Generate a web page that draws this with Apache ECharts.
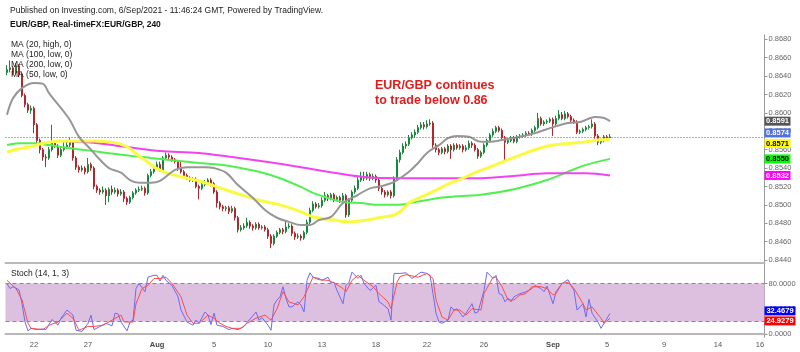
<!DOCTYPE html>
<html>
<head>
<meta charset="utf-8">
<script src="https://cdn.jsdelivr.net/npm/echarts@6/dist/echarts.min.js"></script>
<style>
html,body{margin:0;padding:0;background:#fff;}
#chart{width:800px;height:352px;}
</style>
</head>
<body>
<div id="chart"></div>
<script>
// ---------------- DATA (prices in pips: 8574 = 0.8574) ----------------
const barOpen = [
8644,8647,8649,8644,8651,8642,8619,8609,8603,8605,
8587,8570,8560,8552,8551,8560,8567,8564,8554,8560,
8563,8565,8568,8551,8541,8538,8540,8536,8544,8540,
8520,8516,8514,8516,8510,8517,8514,8516,8512,8514,
8507,8503,8508,8513,8516,8517,8518,8513,8532,8536,
8540,8544,8538,8551,8554,8552,8549,8547,8540,8536,
8532,8529,8527,8528,8520,8518,8522,8524,8527,8523,
8514,8502,8498,8496,8497,8493,8496,8486,8473,8475,
8477,8481,8477,8475,8479,8475,8476,8473,8466,8458,
8466,8470,8473,8471,8476,8477,8469,8465,8466,8464,
8470,8481,8494,8501,8498,8499,8505,8510,8507,8511,
8506,8508,8505,8510,8489,8505,8514,8518,8527,8531,
8529,8533,8529,8531,8527,8518,8514,8511,8514,8510,
8529,8549,8557,8564,8566,8573,8576,8579,8584,8587,
8585,8588,8589,8565,8560,8557,8561,8558,8564,8560,
8565,8562,8564,8560,8562,8567,8565,8560,8553,8557,
8565,8570,8576,8580,8584,8581,8573,8568,8570,8573,
8569,8574,8575,8576,8578,8577,8581,8584,8594,8588,
8590,8591,8593,8588,8594,8598,8594,8599,8596,8592,
8590,8579,8580,8582,8584,8585,8588,8575,8568,8570,
8574,8573];
const barClose = [
8647,8649,8644,8651,8642,8619,8609,8603,8605,8587,
8570,8560,8552,8551,8560,8567,8564,8554,8560,8563,
8565,8568,8551,8541,8538,8540,8536,8544,8540,8520,
8516,8514,8516,8510,8517,8514,8516,8512,8514,8507,
8503,8508,8513,8516,8517,8518,8513,8532,8536,8540,
8544,8538,8551,8554,8552,8549,8547,8540,8536,8532,
8529,8527,8528,8520,8518,8522,8524,8527,8523,8514,
8502,8498,8496,8497,8493,8496,8486,8473,8475,8477,
8481,8477,8475,8479,8475,8476,8473,8466,8458,8466,
8470,8473,8471,8476,8477,8469,8465,8466,8464,8470,
8481,8494,8501,8498,8499,8505,8510,8507,8511,8506,
8508,8505,8510,8489,8505,8514,8518,8527,8531,8529,
8533,8529,8531,8527,8518,8514,8511,8514,8510,8529,
8549,8557,8564,8566,8573,8576,8579,8584,8587,8585,
8588,8589,8565,8560,8557,8561,8558,8564,8560,8565,
8562,8564,8560,8562,8567,8565,8560,8553,8557,8565,
8570,8576,8580,8584,8581,8573,8568,8570,8573,8569,
8574,8575,8576,8578,8577,8581,8584,8594,8588,8590,
8591,8593,8588,8594,8598,8594,8599,8596,8592,8590,
8579,8580,8582,8584,8585,8588,8575,8568,8570,8574,
8573,8574];
const barLow = [
8641,8644,8641,8642,8639,8617,8606,8600,8599,8578,
8566,8556,8548,8541,8549,8558,8562,8551,8552,8558,
8561,8563,8548,8538,8535,8536,8533,8534,8537,8517,
8513,8511,8512,8500,8503,8511,8512,8509,8510,8503,
8500,8501,8506,8511,8514,8515,8510,8511,8530,8534,
8538,8536,8536,8549,8549,8547,8545,8537,8534,8530,
8527,8525,8525,8518,8506,8516,8520,8522,8520,8512,
8497,8495,8493,8493,8490,8491,8483,8470,8471,8473,
8475,8474,8472,8473,8473,8473,8471,8463,8453,8456,
8464,8468,8468,8469,8474,8466,8462,8463,8461,8462,
8468,8479,8492,8496,8496,8497,8503,8504,8505,8503,
8504,8502,8503,8486,8487,8503,8512,8516,8525,8526,
8527,8526,8527,8524,8515,8511,8508,8509,8507,8508,
8527,8546,8555,8561,8564,8571,8573,8577,8582,8582,
8583,8586,8562,8557,8554,8555,8555,8556,8550,8558,
8560,8560,8557,8558,8560,8562,8558,8550,8551,8555,
8563,8568,8574,8578,8579,8571,8547,8566,8568,8567,
8567,8572,8573,8574,8575,8575,8579,8582,8586,8586,
8588,8589,8575,8586,8592,8592,8592,8594,8590,8588,
8577,8577,8578,8580,8582,8583,8572,8565,8566,8568,
8570,8571];
const barHigh = [
8652,8657,8651,8654,8653,8644,8621,8611,8608,8607,
8589,8572,8562,8555,8563,8587,8569,8566,8563,8568,
8569,8573,8570,8553,8543,8543,8542,8551,8546,8542,
8522,8518,8520,8518,8519,8521,8519,8518,8517,8516,
8509,8510,8515,8518,8520,8521,8520,8534,8539,8543,
8547,8547,8553,8557,8556,8554,8551,8549,8547,8538,
8534,8531,8530,8530,8522,8524,8527,8529,8529,8525,
8516,8504,8500,8499,8499,8499,8498,8488,8478,8480,
8486,8483,8479,8481,8481,8478,8478,8475,8468,8468,
8472,8475,8475,8483,8480,8479,8471,8469,8468,8472,
8484,8497,8504,8503,8502,8508,8514,8512,8513,8513,
8510,8510,8513,8512,8507,8516,8521,8530,8536,8536,
8536,8535,8534,8533,8529,8520,8516,8516,8516,8531,
8552,8560,8567,8569,8576,8579,8582,8587,8590,8590,
8592,8593,8591,8567,8562,8563,8563,8566,8566,8567,
8567,8566,8566,8565,8570,8569,8567,8562,8559,8567,
8572,8578,8583,8586,8586,8583,8575,8572,8575,8575,
8576,8577,8578,8580,8580,8583,8586,8600,8596,8592,
8593,8595,8595,8597,8603,8601,8602,8601,8598,8594,
8592,8582,8584,8586,8587,8593,8590,8577,8572,8576,
8576,8577];

// moving averages (bar index, value in pips)
const maGrayAt = [0,2,5,9,12,14,19,21,24,28,31,34,38,41,44,48,51,56,60,66,69,73,77,82,86,90,94,98,101,104,108,112,117,121,125,129,134,137,140,144,147,150,154,158,161,165,171,177,182,187,191,196,199,201];
const maGray = [8598,8616,8627,8632.5,8631.5,8621.5,8601,8592,8574,8560,8549,8540,8535,8527,8524,8524,8526,8538,8541,8541,8540,8535,8521.5,8507.5,8494.5,8486,8481.5,8478,8478,8483.5,8487,8502,8511,8518,8520.5,8525,8536,8545.5,8556.5,8565,8572.5,8575,8574,8568.5,8568.5,8570.5,8574,8579,8584.5,8589,8590,8595.5,8594.5,8591];
const maYellowAt = [0,4,9,12,18,23,29,34,38,41,44,47,49,53,60,64,71,78,84,91,98,102,109,114,120,124,129,131,134,138,143,147,152,156,160,165,171,177,182,188,193,197,201];
const maYellow = [8557.5,8561,8564,8567,8569.5,8569.5,8569.5,8568.5,8566,8561,8553,8546.5,8541,8535,8529,8526,8518.5,8511,8505,8500,8492.5,8487,8483.5,8481.5,8483.5,8486,8489,8492.5,8502,8508.5,8516,8522.5,8529,8535,8540,8546.5,8554,8561,8565,8567,8568.5,8570.5,8571];
const maGreenAt = [0,4,9,14,20,25,31,37,42,48,51,64,71,78,84,91,98,102,107,112,118,124,130,136,142,147,153,158,169,180,187,193,201];
const maGreen = [8565,8567,8567,8565,8562,8560,8557.5,8555,8553,8551,8550,8545.5,8543.5,8540,8536,8529,8519.5,8513,8507.5,8503,8502,8500,8500,8503,8506.5,8508.5,8510,8511,8517,8527,8536,8543.5,8550];
const maMagentaAt = [18,25,33,42,51,64,75,87,98,109,120,131,147,158,169,180,187,193,201];
const maMagenta = [8569.5,8568.5,8566,8562,8558.5,8556.5,8552,8546.5,8541,8535,8530,8529,8529,8529,8531.5,8534.5,8534.5,8534.5,8532];

// stochastic (bar index, value)
const stochKAt = [0,1,2,4,5,6,7,8,10,12,13,15,17,18,20,22,23,25,27,28,29,31,33,35,36,37,38,40,41,42,43,44,46,47,49,50,51,52,53,55,57,58,60,62,63,64,66,67,68,69,70,72,74,75,77,79,80,83,84,85,87,88,89,90,91,92,93,94,95,97,98,99,100,101,102,104,105,107,108,109,110,112,113,114,115,117,118,119,121,123,124,125,127,128,129,131,133,135,138,140,141,142,143,144,145,147,148,149,150,152,153,155,156,157,159,160,162,163,164,165,166,167,168,169,171,173,175,176,178,179,180,182,183,185,187,188,189,190,192,193,194,195,197,198,200,201];
const stochK = [80,72,75,70,48,19,5,9,7,8,7,23,14,25,38,30,6,4,17,30,7,12,17,13,33,32,19,5,19,22,72,80,67,90,93,93,84,93,85,77,59,38,19,14,22,17,35,30,15,33,14,12,7,9,7,12,18,35,22,26,14,6,46,54,59,75,56,43,43,51,46,35,85,97,90,88,85,90,81,82,69,48,77,82,98,88,93,80,69,77,51,48,40,22,96,96,97,88,98,96,93,64,33,19,17,22,43,38,40,27,33,48,33,35,69,98,88,93,64,62,51,57,51,59,64,67,72,77,72,67,76,48,67,80,86,77,69,38,48,27,55,33,19,9,25,32.4679];
const stochDAt = [0,3,5,7,8,12,14,17,20,22,24,27,29,32,35,38,39,42,43,45,47,49,51,53,55,58,60,62,64,67,69,71,73,75,78,80,83,86,88,90,92,94,97,99,102,104,107,109,112,113,115,117,119,122,124,127,128,130,131,133,137,140,142,143,145,147,149,151,153,155,158,159,162,163,165,167,169,171,173,175,178,180,182,183,185,187,189,192,193,195,198,199,201];
const stochD = [85,72,54,17,9,7,14,19,33,25,6,12,12,14,22,30,19,19,48,72,77,88,88,90,80,59,30,17,17,30,25,17,12,9,9,17,25,30,22,40,67,51,46,59,90,86,85,81,72,67,85,93,85,75,64,51,40,82,91,94,90,96,88,54,27,22,38,38,30,40,38,64,90,90,75,54,54,62,64,75,75,72,62,64,80,82,72,48,38,43,25,17,24.9279];

// axes / labels
const slotCount = 253;
const dateLabels = ['22','27','Aug','5','10','13','18','22','26','Sep','5','9','14','16'];
const dateLabelAt = [9,27,50,69,87,105,123,140,159,182,200,219,237,251];
const priceTickLabels = ['0.8440','0.8460','0.8480','0.8500','0.8520','0.8540','0.8560','0.8580','0.8600','0.8620','0.8640','0.8660','0.8680'];
const stochTickLabels = ['0.0000','40.0000','80.0000'];
const stochBand = [20, 80];
const lastPrice = '0.8574';
const priceTagTexts = ['0.8591','0.8574','0.8571','0.8550','0.8532'];
const stochTagTexts = ['32.4679','24.9279'];

// ---------------- CHART ----------------
const FONT = '"Liberation Sans", Arial, sans-serif';
const P = v => v / 10000;
const slots = Array.from({length: slotCount}, (_, i) => String(i));
const candles = barOpen.map((o, i) => [P(o), P(barClose[i]), P(barLow[i]), P(barHigh[i])]);
const pairs = (at, vals, f) => at.map((x, j) => [x, f ? f(vals[j]) : vals[j]]);
const priceTicks = priceTickLabels.map(Number);
const stochTicks = stochTickLabels.map(Number);
const labelMap = {};
dateLabelAt.forEach((b, j) => labelMap[b] = dateLabels[j]);

const chart = echarts.init(document.getElementById('chart'), null, {renderer: 'canvas'});

const maLine = (name, at, vals, color, width) => ({
  name, type: 'line', xAxisIndex: 0, yAxisIndex: 0,
  data: pairs(at, vals, P), showSymbol: false, smooth: 0.35,
  lineStyle: {color, width}, itemStyle: {color}, silent: true, z: 3
});

const option = {
  animation: false,
  backgroundColor: '#ffffff',
  textStyle: {fontFamily: FONT},
  grid: [
    {left: 5.5, right: 35.5, top: 35, height: 228},
    {left: 5.5, right: 35.5, top: 263, height: 74.3}
  ],
  xAxis: [
    {type: 'category', gridIndex: 0, data: slots, boundaryGap: true,
     axisLine: {show: true, lineStyle: {color: '#b8b8b8', width: 2}},
     axisTick: {show: false}, axisLabel: {show: false}, splitLine: {show: false}},
    {type: 'category', gridIndex: 1, data: slots, boundaryGap: true,
     axisLine: {show: true, lineStyle: {color: '#b8b8b8', width: 2}},
     axisTick: {show: false}, splitLine: {show: false},
     axisLabel: {
       interval: (i) => labelMap[i] !== undefined,
       formatter: (v, i) => {
         const t = labelMap[i] || '';
         return /[A-Za-z]/.test(t) ? '{b|' + t + '}' : t;
       },
       rich: {b: {fontWeight: 'bold', fontSize: 7.5, color: '#444', fontFamily: FONT}},
       margin: 4, fontSize: 7.5, color: '#555', fontFamily: FONT
     }}
  ],
  yAxis: [
    {type: 'value', gridIndex: 0, position: 'right', min: 0.84368, max: 0.86847, scale: true,
     axisLine: {show: true, lineStyle: {color: '#9a9a9a', width: 1}},
     axisTick: {show: true, length: 3, customValues: priceTicks, lineStyle: {color: '#9a9a9a'}},
     axisLabel: {customValues: priceTicks, formatter: v => v.toFixed(4), fontSize: 7.5, color: '#666', margin: 4, fontFamily: FONT},
     splitLine: {show: false}},
    {type: 'value', gridIndex: 1, position: 'right', min: -5.2, max: 112.5,
     axisLine: {show: true, lineStyle: {color: '#9a9a9a', width: 1}},
     axisTick: {show: true, length: 3, customValues: stochTicks, lineStyle: {color: '#9a9a9a'}},
     axisLabel: {customValues: stochTicks, formatter: v => v.toFixed(4), fontSize: 7.5, color: '#666', margin: 4, fontFamily: FONT},
     splitLine: {show: false}}
  ],
  series: [
    {name: 'EUR/GBP', type: 'candlestick', xAxisIndex: 0, yAxisIndex: 0, data: candles,
     barWidth: 2.4,
     itemStyle: {color: '#17893b', color0: '#b5262c', borderColor: '#17893b', borderColor0: '#b5262c', borderWidth: 1},
     markLine: {silent: true, symbol: ['none', 'none'], label: {show: false}, precision: 4,
       lineStyle: {color: '#2f5cf0', type: [1, 2], width: 1, opacity: 1},
       data: [{yAxis: Number(lastPrice)}]},
     z: 2},
    maLine('MA (100, low, 0)', maGreenAt, maGreen, '#50f050', 2),
    maLine('MA (200, low, 0)', maMagentaAt, maMagenta, '#f044f0', 2),
    maLine('MA (50, low, 0)', maYellowAt, maYellow, '#fafa40', 3),
    maLine('MA (20, high, 0)', maGrayAt, maGray, '#969696', 2),
    {name: '%K', type: 'line', xAxisIndex: 1, yAxisIndex: 1, data: pairs(stochKAt, stochK),
     showSymbol: false, lineStyle: {color: '#6b6bf5', width: 1}, silent: true,
     markArea: {silent: true, itemStyle: {color: '#ddc0e0'},
       data: [[{yAxis: stochBand[0]}, {yAxis: stochBand[1]}]]},
     markLine: {silent: true, symbol: ['none', 'none'], label: {show: false},
       lineStyle: {color: '#888', type: [4, 3], width: 1},
       data: [{yAxis: stochBand[0]}, {yAxis: stochBand[1]}]}},
    {name: '%D', type: 'line', xAxisIndex: 1, yAxisIndex: 1, data: pairs(stochDAt, stochD),
     showSymbol: false, lineStyle: {color: '#ff4b4b', width: 1}, silent: true}
  ]
};
chart.setOption(option);

// ---------------- TEXT & TAGS ----------------
const texts = [
  {text: 'Published on Investing.com, 6/Sep/2021 - 11:46:24 GMT, Powered by TradingView.', x: 10, y: 11, size: 8.5, weight: 'normal', color: '#222'},
  {text: 'EUR/GBP, Real-timeFX:EUR/GBP, 240', x: 10, y: 25, size: 8.5, weight: 'bold', color: '#111'},
  {text: 'MA (20, high, 0)', x: 11, y: 44.5, size: 8.5, weight: 'normal', color: '#222'},
  {text: 'MA (100, low, 0)', x: 11, y: 54.5, size: 8.5, weight: 'normal', color: '#222'},
  {text: 'MA (200, low, 0)', x: 11, y: 64.5, size: 8.5, weight: 'normal', color: '#222'},
  {text: 'MA (50, low, 0)', x: 11, y: 75, size: 8.5, weight: 'normal', color: '#222'},
  {text: 'Stoch (14, 1, 3)', x: 11, y: 273.5, size: 8.5, weight: 'normal', color: '#222'},
  {text: 'EUR/GBP continues', x: 375, y: 85.5, size: 12.5, weight: 'bold', color: '#e41c1c'},
  {text: 'to trade below 0.86', x: 375, y: 100.5, size: 12.5, weight: 'bold', color: '#e41c1c'}
];
const graphics = texts.map(t => ({
  type: 'text', z: 50, silent: true,
  style: {text: t.text, x: t.x, y: t.y, fill: t.color, fontSize: t.size, fontWeight: t.weight,
          fontFamily: FONT, align: 'left', verticalAlign: 'middle'}
}));

function layoutTags(items, gap) {
  items.sort((a, b) => a.y - b.y);
  for (let i = 1; i < items.length; i++) {
    if (items[i].y - items[i - 1].y < gap) {
      const mid = (items[i].y + items[i - 1].y) / 2;
      items[i - 1].y = mid - gap / 2;
      items[i].y = mid + gap / 2;
    }
  }
  return items;
}
const priceTagStyle = [
  {bg: '#555555', fg: '#ffffff'}, {bg: '#4f72e3', fg: '#ffffff'}, {bg: '#ffff00', fg: '#000000'},
  {bg: '#00ff00', fg: '#000000'}, {bg: '#ff00ff', fg: '#ffffff'}
];
const stochTagStyle = [{bg: '#0000ff', fg: '#ffffff'}, {bg: '#ff0000', fg: '#ffffff'}];
const axisX = chart.convertToPixel({gridIndex: 0}, [slotCount - 1, 0.85])[0] + 1.5;
const pTags = layoutTags(priceTagTexts.map((t, i) => ({
  text: t, y: chart.convertToPixel({yAxisIndex: 0}, Number(t)), w: 26, ...priceTagStyle[i]})), 10.5);
const sTags = layoutTags(stochTagTexts.map((t, i) => ({
  text: t, y: chart.convertToPixel({yAxisIndex: 1}, Number(t)), w: 31, ...stochTagStyle[i]})), 10);
[...pTags, ...sTags].forEach(tag => {
  graphics.push({type: 'rect', z: 60, silent: true,
    shape: {x: axisX, y: tag.y - 4.5, width: tag.w, height: 9},
    style: {fill: tag.bg}});
  graphics.push({type: 'text', z: 61, silent: true,
    style: {text: tag.text, x: axisX + tag.w / 2, y: tag.y, fill: tag.fg, fontSize: 7.5, fontWeight: 'bold',
            fontFamily: FONT, align: 'center', verticalAlign: 'middle'}});
});
chart.setOption({graphic: graphics});
</script>
</body>
</html>
